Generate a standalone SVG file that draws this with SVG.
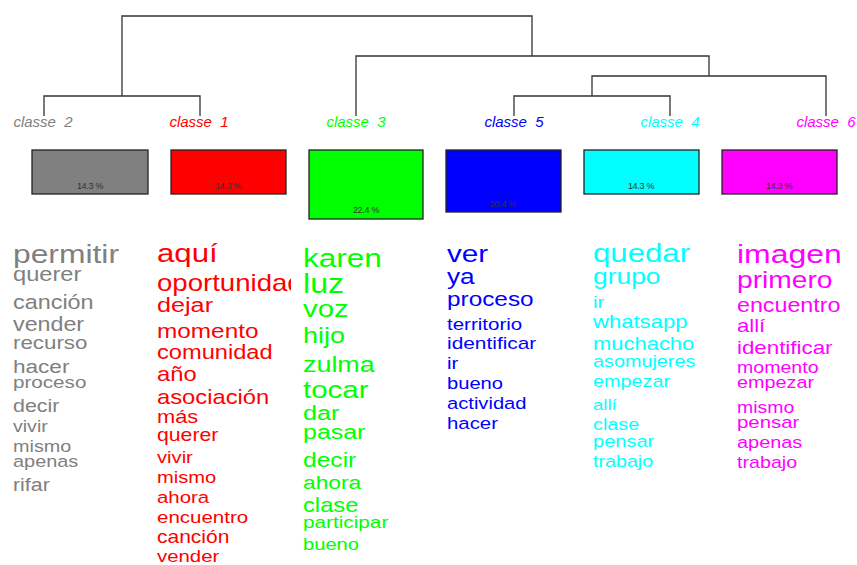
<svg xmlns="http://www.w3.org/2000/svg" width="857" height="565" viewBox="0 0 857 565">
<style>
text{font-family:"Liberation Sans",Arial,Helvetica,sans-serif}
.lab{font-size:15px;font-style:italic;text-anchor:middle;white-space:pre}
.pct{font-size:9px;text-anchor:middle;fill:#333;letter-spacing:-0.3px}
.box{stroke:#222;stroke-width:1.3}
.tree{fill:none;stroke:#333;stroke-width:1.3}
.c2{fill:#808080}.c1{fill:#ff0000}.c3{fill:#00ff00}.c5{fill:#0000ff}.c4{fill:#00ffff}.c6{fill:#ff00ff}
</style>
<defs>
<clipPath id="clipRed"><rect x="150" y="230" width="141" height="335"/></clipPath>
</defs>
<rect width="857" height="565" fill="#ffffff"/>
<g id="connectors" class="tree">
<path d="M122,96 V16 H532 V56"/>
<path d="M44,116 V96 H200 V116"/>
<path d="M356,116 V56 H709 V76"/>
<path d="M592,96 V76 H826 V116"/>
<path d="M514,116 V96 H670 V116"/>
</g>
<g id="classe2">
<text class="lab c2" x="43" y="127">classe  2</text>
<rect class="box" x="32" y="150" width="116" height="44" fill="#808080"/>
<text class="pct" x="90" y="189">14.3 %</text>
<g class="c2" transform="translate(13,0) scale(1.2,1)">
<text x="0" y="263" font-size="26.5">permitir</text>
<text x="0" y="281" font-size="19.7">querer</text>
<text x="0" y="309" font-size="19.5">canción</text>
<text x="0" y="331" font-size="19.4">vender</text>
<text x="0" y="349" font-size="18.6">recurso</text>
<text x="0" y="373" font-size="18.8">hacer</text>
<text x="0" y="388" font-size="17.2">proceso</text>
<text x="0" y="412" font-size="17.8">decir</text>
<text x="0" y="432" font-size="16.3">vivir</text>
<text x="0" y="452" font-size="16.5">mismo</text>
<text x="0" y="467" font-size="16.6">apenas</text>
<text x="0" y="491" font-size="17.8">rifar</text>
</g>
</g>
<g id="classe1">
<text class="lab c1" x="199" y="127">classe  1</text>
<rect class="box" x="171" y="150" width="115" height="44" fill="#ff0000"/>
<text class="pct" x="228" y="189">14.3 %</text>
<g clip-path="url(#clipRed)">
<g class="c1" transform="translate(157,0) scale(1.2,1)">
<text x="0" y="262" font-size="26">aquí</text>
<text x="0" y="291" font-size="23">oportunidad</text>
<text x="0" y="312" font-size="21">dejar</text>
<text x="0" y="338" font-size="20.3">momento</text>
<text x="0" y="359" font-size="19.7">comunidad</text>
<text x="0" y="381" font-size="19.8">año</text>
<text x="0" y="404" font-size="19.8">asociación</text>
<text x="0" y="423" font-size="18.2">más</text>
<text x="0" y="441" font-size="17.7">querer</text>
<text x="0" y="463" font-size="16.8">vivir</text>
<text x="0" y="483" font-size="16.8">mismo</text>
<text x="0" y="503" font-size="17">ahora</text>
<text x="0" y="523" font-size="17.1">encuentro</text>
<text x="0" y="543" font-size="17.5">canción</text>
<text x="0" y="562" font-size="17">vender</text>
</g>
</g>
</g>
<g id="classe3">
<text class="lab c3" x="356" y="127">classe  3</text>
<rect class="box" x="309" y="150" width="114" height="69" fill="#00ff00"/>
<text class="pct" x="366" y="213">22.4 %</text>
<g class="c3" transform="translate(303,0) scale(1.2,1)">
<text x="0" y="267" font-size="26.3">karen</text>
<text x="0" y="293" font-size="26.8">luz</text>
<text x="0" y="317" font-size="24.5">voz</text>
<text x="0" y="343" font-size="22.5">hijo</text>
<text x="0" y="372" font-size="22.4">zulma</text>
<text x="0" y="398" font-size="24.6">tocar</text>
<text x="0" y="420" font-size="21">dar</text>
<text x="0" y="439" font-size="20.8">pasar</text>
<text x="0" y="467" font-size="20.5">decir</text>
<text x="0" y="489" font-size="19">ahora</text>
<text x="0" y="512" font-size="19.8">clase</text>
<text x="0" y="528" font-size="17.3">participar</text>
<text x="0" y="550" font-size="16.8">bueno</text>
</g>
</g>
<g id="classe5">
<text class="lab c5" x="514" y="127">classe  5</text>
<rect class="box" x="446" y="150" width="115" height="62" fill="#0000ff"/>
<text class="pct" x="503" y="207">20.4 %</text>
<g class="c5" transform="translate(447,0) scale(1.2,1)">
<text x="0" y="262" font-size="24.7">ver</text>
<text x="0" y="284" font-size="21.8">ya</text>
<text x="0" y="306" font-size="20.3">proceso</text>
<text x="0" y="330" font-size="17.1">territorio</text>
<text x="0" y="349" font-size="17.4">identificar</text>
<text x="0" y="369" font-size="17">ir</text>
<text x="0" y="389" font-size="16.8">bueno</text>
<text x="0" y="409" font-size="16.8">actividad</text>
<text x="0" y="429" font-size="17">hacer</text>
</g>
</g>
<g id="classe4">
<text class="lab c4" x="670" y="127">classe  4</text>
<rect class="box" x="584" y="150" width="115" height="44" fill="#00ffff"/>
<text class="pct" x="641" y="189">14.3 %</text>
<g class="c4" transform="translate(593,0) scale(1.2,1)">
<text x="0" y="262" font-size="26">quedar</text>
<text x="0" y="284" font-size="22">grupo</text>
<text x="0" y="308" font-size="17">ir</text>
<text x="0" y="328" font-size="18.4">whatsapp</text>
<text x="0" y="350" font-size="18.3">muchacho</text>
<text x="0" y="367" font-size="16.5">asomujeres</text>
<text x="0" y="387" font-size="16.5">empezar</text>
<text x="0" y="410" font-size="15.5">allí</text>
<text x="0" y="430" font-size="16.5">clase</text>
<text x="0" y="447" font-size="16.7">pensar</text>
<text x="0" y="467" font-size="16.4">trabajo</text>
</g>
</g>
<g id="classe6">
<text class="lab c6" x="826" y="127">classe  6</text>
<rect class="box" x="722" y="150" width="115" height="44" fill="#ff00ff"/>
<text class="pct" x="779" y="189">14.3 %</text>
<g class="c6" transform="translate(737,0) scale(1.2,1)">
<text x="0" y="263" font-size="26.6">imagen</text>
<text x="0" y="288" font-size="23.5">primero</text>
<text x="0" y="312" font-size="19.4">encuentro</text>
<text x="0" y="332" font-size="18.4">allí</text>
<text x="0" y="354" font-size="18.6">identificar</text>
<text x="0" y="373" font-size="16.3">momento</text>
<text x="0" y="388" font-size="16.5">empezar</text>
<text x="0" y="413" font-size="16.2">mismo</text>
<text x="0" y="428" font-size="17">pensar</text>
<text x="0" y="448" font-size="16.6">apenas</text>
<text x="0" y="468" font-size="16.4">trabajo</text>
</g>
</g>
</svg>
